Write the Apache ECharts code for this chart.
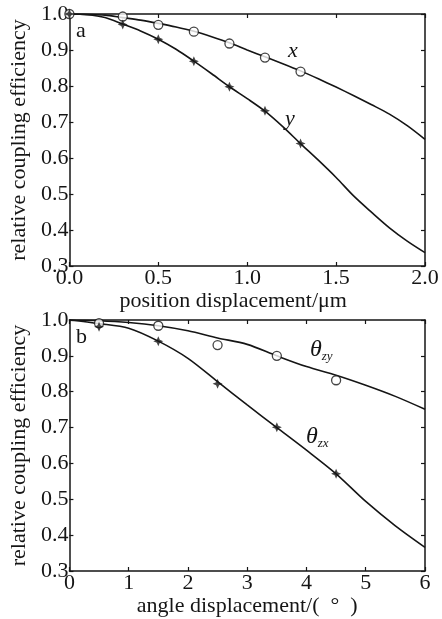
<!DOCTYPE html>
<html lang="en">
<head>
    <meta charset="UTF-8">
    <title>coupling efficiency</title>
    <script src="https://cdn.jsdelivr.net/npm/echarts@6/dist/echarts.min.js"></script>
    <style>
        *{
            margin: 0;
            padding: 0;
        }
        html,body{
            width: 100%;
            height: 100%;
            background: #fff;
        }
        .main{
            width: 442px;
            height: 619px;
        }
    </style>
</head>
<body>
<div class="main"></div>
<script>
    // panel a: position displacement (um)
    let posX = [0, 0.1, 0.2, 0.3, 0.4, 0.5, 0.6, 0.7, 0.8, 0.9, 1.0, 1.1, 1.2, 1.3, 1.4, 1.5, 1.6, 1.7, 1.8, 1.9, 2.0];
    let curveX = [1.0, 0.999, 0.997, 0.99, 0.983, 0.974, 0.964, 0.952, 0.937, 0.92, 0.90, 0.881, 0.862, 0.842, 0.82, 0.797, 0.773, 0.748, 0.722, 0.69, 0.652];
    let curveY = [1.0, 0.998, 0.99, 0.972, 0.953, 0.93, 0.902, 0.869, 0.834, 0.798, 0.765, 0.73, 0.687, 0.64, 0.594, 0.546, 0.494, 0.449, 0.406, 0.369, 0.337];
    let measPosX = [0, 0.3, 0.5, 0.7, 0.9, 1.1, 1.3];
    let measX = [1.0, 0.993, 0.97, 0.951, 0.918, 0.879, 0.84];
    let measY = [1.0, 0.971, 0.93, 0.869, 0.798, 0.731, 0.64];

    // panel b: angle displacement (deg)
    let angX = [0, 0.5, 1, 1.5, 2, 2.5, 3, 3.5, 4, 4.5, 5, 5.5, 6];
    let curveZy = [1.0, 0.998, 0.993, 0.984, 0.97, 0.95, 0.932, 0.90, 0.87, 0.846, 0.818, 0.787, 0.751];
    let curveZx = [1.0, 0.99, 0.977, 0.941, 0.893, 0.828, 0.763, 0.70, 0.637, 0.571, 0.494, 0.426, 0.366];
    let measAng = [0.5, 1.5, 2.5, 3.5, 4.5];
    let measZy = [0.991, 0.984, 0.93, 0.90, 0.832];
    let measZx = [0.981, 0.941, 0.822, 0.701, 0.571];

    let posTicks = ['0.0', '0.5', '1.0', '1.5', '2.0'];
    let effTicks = ['0.3', '0.4', '0.5', '0.6', '0.7', '0.8', '0.9', '1.0'];

    const ink = '#151515';
    const font = '"Liberation Serif", "Times New Roman", serif';
    const star = 'path://M0,-10 L3,-3 L10,0 L3,3 L0,10 L-3,3 L-10,0 L-3,-3 Z';

    let zip = (xs, ys) => xs.map((x, i) => [x, ys[i]]);

    let main = echarts.init(document.getElementsByClassName('main')[0]);

    let tick = {show: true, inside: true, length: 4, lineStyle: {color: ink, width: 1.2}};
    let axLine = {show: true, onZero: false, lineStyle: {color: ink, width: 1.5}};
    let lbl = {color: ink, fontFamily: font, fontSize: 22};

    function xAxisOf(grid, max, interval, name, fmt, pos, namePad) {
        let main = pos === 'bottom';
        return {
            type: 'value', gridIndex: grid, position: pos, min: 0, max, interval,
            axisLine: axLine, axisTick: tick, splitLine: {show: false},
            axisLabel: main ? Object.assign({margin: 1, formatter: fmt}, lbl) : {show: false},
            name: main ? name : '', nameLocation: 'middle', nameGap: 22,
            nameTextStyle: Object.assign({padding: namePad || 0}, lbl)
        };
    }
    function yAxisOf(grid, pos) {
        let main = pos === 'left';
        return {
            type: 'value', gridIndex: grid, position: pos, min: 0.3, max: 1.0, interval: 0.1,
            axisLine: axLine, axisTick: tick, splitLine: {show: false},
            axisLabel: main ? Object.assign({margin: 1, formatter: v => effTicks[Math.round((v - 0.3) * 10)]}, lbl) : {show: false},
            name: main ? 'relative coupling efficiency' : '', nameLocation: 'middle', nameGap: 33,
            nameTextStyle: lbl
        };
    }

    function curve(name, xi, yi, xs, ys) {
        return {
            name, type: 'line', xAxisIndex: xi, yAxisIndex: yi, data: zip(xs, ys),
            smooth: 0.3, showSymbol: false, lineStyle: {color: ink, width: 1.6}, z: 2
        };
    }
    function marks(name, xi, yi, xs, ys, open) {
        return {
            name, type: 'scatter', xAxisIndex: xi, yAxisIndex: yi, data: zip(xs, ys),
            symbol: open ? 'circle' : star, symbolSize: open ? 9 : 10,
            itemStyle: open ? {color: '#fff', borderColor: ink, borderWidth: 1.3} : {color: ink},
            z: 3
        };
    }

    let txt = (left, top, text, italic) => ({
        type: 'text', left, top,
        style: {text, fill: ink, fontFamily: font, fontSize: 22, fontStyle: italic ? 'italic' : 'normal'}
    });
    let theta = (left, top, sub) => ({
        type: 'text', left, top,
        style: {
            text: '{t|θ}{s|' + sub + '}', fill: ink,
            rich: {
                t: {fontFamily: font, fontStyle: 'italic', fontSize: 24, fill: ink},
                s: {fontFamily: font, fontStyle: 'italic', fontSize: 13, fill: ink, padding: [14, 0, 0, 0]}
            }
        }
    });

    let option = {
        backgroundColor: '#fff',
        animation: false,
        grid: [
            {left: 68, top: 14, width: 357, height: 252},
            {left: 68, top: 320, width: 357, height: 251}
        ],
        xAxis: [
            xAxisOf(0, 2.0, 0.5, 'position displacement/μm', v => posTicks[Math.round(v * 2)], 'bottom', [0, 28, 0, 0]),
            xAxisOf(0, 2.0, 0.5, '', null, 'top'),
            xAxisOf(1, 6, 1, 'angle displacement/(  °  )', v => String(v), 'bottom'),
            xAxisOf(1, 6, 1, '', null, 'top')
        ],
        yAxis: [
            yAxisOf(0, 'left'),
            yAxisOf(0, 'right'),
            yAxisOf(1, 'left'),
            yAxisOf(1, 'right')
        ],
        graphic: [
            txt(76, 20, 'a', false),
            txt(76, 326, 'b', false),
            txt(288, 40, 'x', true),
            txt(285, 108, 'y', true),
            theta(310, 338, 'zy'),
            theta(306, 425, 'zx')
        ],
        series: [
            curve('x', 0, 0, posX, curveX),
            curve('y', 0, 0, posX, curveY),
            marks('x meas', 0, 0, measPosX, measX, true),
            marks('y meas', 0, 0, measPosX, measY, false),
            curve('zy', 2, 2, angX, curveZy),
            curve('zx', 2, 2, angX, curveZx),
            marks('zy meas', 2, 2, measAng, measZy, true),
            marks('zx meas', 2, 2, measAng, measZx, false)
        ]
    };
    main.setOption(option);
</script>
</body>
</html>
